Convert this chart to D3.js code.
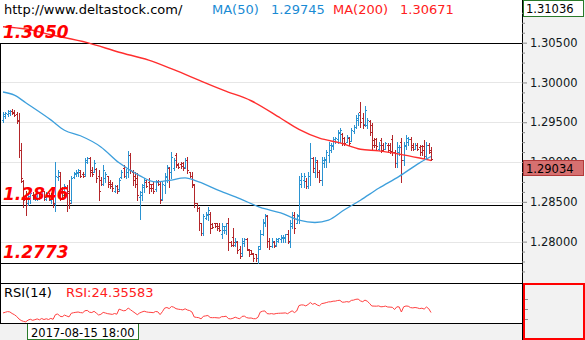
<!DOCTYPE html>
<html>
<head>
<meta charset="utf-8">
<script src="https://cdn.jsdelivr.net/npm/d3@7"></script>
<style>
  html, body { margin: 0; padding: 0; background: #fff; overflow: hidden; }
  svg { display: block; font-family: "DejaVu Sans", Verdana, sans-serif; }
</style>
</head>
<body>
<svg id="chart" width="585" height="340"></svg>
<script>
// ---------- data: GBP/USD bars (open, high, low, close) ----------
const openP = [
  1.2953,1.2958,1.2960,1.2962,1.2964,1.2963,1.2960,1.2953,1.2915,1.2876,
  1.2858,1.2848,1.2854,1.2859,1.2853,1.2856,1.2861,1.2859,1.2863,1.2854,
  1.2859,1.2852,1.2857,1.2847,1.2881,1.2882,1.2864,1.2858,1.2868,1.2864,
  1.2852,1.2881,1.2885,1.2886,1.2888,1.2885,1.2885,1.2900,1.2905,1.2890,
  1.2887,1.2891,1.2883,1.2877,1.2872,1.2880,1.2882,1.2875,1.2872,1.2864,
  1.2870,1.2866,1.2881,1.2892,1.2882,1.2887,1.2909,1.2888,1.2882,1.2880,
  1.2856,1.2858,1.2868,1.2875,1.2875,1.2872,1.2873,1.2866,1.2876,1.2872,
  1.2853,1.2871,1.2881,1.2892,1.2887,1.2892,1.2909,1.2897,1.2897,1.2899,
  1.2894,1.2902,1.2887,1.2883,1.2871,1.2848,1.2842,1.2823,1.2811,1.2830,
  1.2833,1.2835,1.2822,1.2823,1.2823,1.2819,1.2809,1.2814,1.2815,1.2824,
  1.2800,1.2806,1.2796,1.2799,1.2791,1.2786,1.2798,1.2803,1.2790,1.2789,
  1.2785,1.2784,1.2779,1.2794,1.2810,1.2824,1.2832,1.2801,1.2794,1.2800,
  1.2796,1.2801,1.2803,1.2804,1.2805,1.2810,1.2800,1.2820,1.2834,1.2824,
  1.2832,1.2873,1.2877,1.2876,1.2870,1.2882,1.2905,1.2887,1.2900,1.2887,
  1.2877,1.2899,1.2902,1.2909,1.2915,1.2920,1.2926,1.2929,1.2936,1.2935,
  1.2930,1.2925,1.2930,1.2926,1.2939,1.2944,1.2953,1.2963,1.2955,1.2948,
  1.2946,1.2951,1.2946,1.2928,1.2929,1.2917,1.2928,1.2921,1.2917,1.2922,
  1.2921,1.2929,1.2912,1.2899,1.2912,1.2925,1.2902,1.2920,1.2925,1.2929,
  1.2921,1.2917,1.2921,1.2919,1.2920,1.2920,1.2907,1.2921,1.2915
];
const highP = [
  1.2963,1.2963,1.2965,1.2965,1.2967,1.2965,1.2963,1.2962,1.2924,1.2877,
  1.2864,1.2861,1.2864,1.2862,1.2858,1.2864,1.2862,1.2867,1.2864,1.2862,
  1.2861,1.2861,1.2858,1.2900,1.2890,1.2887,1.2868,1.2873,1.2871,1.2877,
  1.2883,1.2887,1.2890,1.2891,1.2890,1.2887,1.2905,1.2906,1.2906,1.2894,
  1.2902,1.2892,1.2890,1.2881,1.2896,1.2887,1.2883,1.2877,1.2875,1.2871,
  1.2871,1.2880,1.2890,1.2896,1.2891,1.2914,1.2911,1.2890,1.2887,1.2886,
  1.2864,1.2873,1.2880,1.2877,1.2880,1.2873,1.2875,1.2877,1.2877,1.2875,
  1.2875,1.2886,1.2896,1.2894,1.2912,1.2905,1.2911,1.2899,1.2900,1.2900,
  1.2905,1.2906,1.2887,1.2887,1.2873,1.2849,1.2843,1.2824,1.2835,1.2837,
  1.2843,1.2837,1.2824,1.2824,1.2824,1.2823,1.2823,1.2820,1.2824,1.2830,
  1.2801,1.2817,1.2804,1.2801,1.2795,1.2804,1.2804,1.2804,1.2791,1.2790,
  1.2786,1.2785,1.2795,1.2814,1.2829,1.2835,1.2833,1.2804,1.2804,1.2801,
  1.2805,1.2805,1.2808,1.2808,1.2810,1.2814,1.2827,1.2837,1.2837,1.2835,
  1.2883,1.2886,1.2886,1.2880,1.2887,1.2924,1.2906,1.2906,1.2902,1.2890,
  1.2906,1.2906,1.2915,1.2925,1.2924,1.2931,1.2931,1.2940,1.2943,1.2936,
  1.2931,1.2934,1.2931,1.2943,1.2946,1.2959,1.2962,1.2975,1.2962,1.2970,
  1.2955,1.2953,1.2949,1.2930,1.2930,1.2925,1.2930,1.2924,1.2925,1.2924,
  1.2924,1.2934,1.2915,1.2925,1.2921,1.2930,1.2925,1.2934,1.2931,1.2931,
  1.2924,1.2924,1.2924,1.2921,1.2921,1.2928,1.2925,1.2924,1.2919
];
const lowP = [
  1.2950,1.2955,1.2958,1.2959,1.2960,1.2958,1.2949,1.2906,1.2875,1.2843,
  1.2833,1.2846,1.2848,1.2853,1.2852,1.2852,1.2854,1.2858,1.2852,1.2852,
  1.2852,1.2849,1.2843,1.2839,1.2877,1.2852,1.2854,1.2856,1.2839,1.2842,
  1.2848,1.2880,1.2883,1.2883,1.2881,1.2881,1.2883,1.2899,1.2883,1.2883,
  1.2887,1.2875,1.2852,1.2871,1.2871,1.2875,1.2868,1.2867,1.2864,1.2862,
  1.2861,1.2864,1.2880,1.2881,1.2880,1.2881,1.2886,1.2871,1.2868,1.2852,
  1.2829,1.2852,1.2862,1.2868,1.2861,1.2864,1.2861,1.2864,1.2871,1.2848,
  1.2852,1.2861,1.2875,1.2868,1.2880,1.2890,1.2894,1.2892,1.2892,1.2890,
  1.2892,1.2886,1.2881,1.2868,1.2843,1.2839,1.2814,1.2808,1.2808,1.2829,
  1.2827,1.2811,1.2817,1.2818,1.2814,1.2813,1.2805,1.2811,1.2810,1.2789,
  1.2794,1.2795,1.2795,1.2786,1.2779,1.2782,1.2795,1.2789,1.2782,1.2784,
  1.2776,1.2776,1.2773,1.2791,1.2808,1.2820,1.2793,1.2791,1.2793,1.2793,
  1.2795,1.2799,1.2799,1.2799,1.2799,1.2798,1.2793,1.2817,1.2811,1.2823,
  1.2823,1.2868,1.2868,1.2867,1.2867,1.2871,1.2887,1.2881,1.2881,1.2875,
  1.2871,1.2894,1.2894,1.2900,1.2912,1.2917,1.2924,1.2924,1.2925,1.2921,
  1.2921,1.2925,1.2921,1.2926,1.2936,1.2943,1.2946,1.2944,1.2943,1.2945,
  1.2943,1.2934,1.2917,1.2919,1.2917,1.2915,1.2912,1.2915,1.2917,1.2912,
  1.2911,1.2909,1.2894,1.2894,1.2909,1.2875,1.2896,1.2917,1.2921,1.2915,
  1.2915,1.2917,1.2915,1.2909,1.2909,1.2905,1.2905,1.2911,1.2902
];
const closeP = [
  1.2960,1.2962,1.2964,1.2964,1.2962,1.2959,1.2951,1.2915,1.2880,1.2852,
  1.2846,1.2857,1.2861,1.2854,1.2857,1.2862,1.2856,1.2864,1.2856,1.2859,
  1.2853,1.2858,1.2848,1.2883,1.2887,1.2862,1.2858,1.2870,1.2861,1.2848,
  1.2880,1.2886,1.2888,1.2890,1.2883,1.2882,1.2902,1.2905,1.2887,1.2885,
  1.2899,1.2880,1.2864,1.2872,1.2890,1.2885,1.2873,1.2870,1.2867,1.2870,
  1.2863,1.2877,1.2887,1.2883,1.2888,1.2909,1.2890,1.2877,1.2873,1.2858,
  1.2862,1.2871,1.2877,1.2870,1.2867,1.2867,1.2864,1.2875,1.2872,1.2852,
  1.2872,1.2882,1.2894,1.2887,1.2906,1.2902,1.2896,1.2894,1.2895,1.2892,
  1.2902,1.2890,1.2882,1.2872,1.2849,1.2842,1.2824,1.2811,1.2832,1.2835,
  1.2840,1.2817,1.2818,1.2819,1.2817,1.2815,1.2820,1.2819,1.2823,1.2799,
  1.2796,1.2799,1.2801,1.2789,1.2782,1.2801,1.2803,1.2791,1.2785,1.2786,
  1.2779,1.2779,1.2791,1.2810,1.2825,1.2833,1.2801,1.2794,1.2801,1.2794,
  1.2803,1.2804,1.2806,1.2806,1.2809,1.2801,1.2823,1.2834,1.2817,1.2833,
  1.2877,1.2883,1.2882,1.2870,1.2883,1.2905,1.2892,1.2902,1.2887,1.2877,
  1.2902,1.2904,1.2912,1.2921,1.2922,1.2929,1.2930,1.2938,1.2940,1.2924,
  1.2924,1.2931,1.2924,1.2940,1.2944,1.2955,1.2959,1.2950,1.2946,1.2965,
  1.2953,1.2938,1.2921,1.2921,1.2920,1.2922,1.2915,1.2917,1.2924,1.2915,
  1.2914,1.2912,1.2899,1.2919,1.2919,1.2902,1.2921,1.2930,1.2929,1.2919,
  1.2917,1.2921,1.2917,1.2912,1.2915,1.2907,1.2921,1.2912,1.29034
];

// RSI(14), one value per bar
const rsi14 = [
  42.1,43.5,44.8,44.2,41.0,38.6,35.2,30.1,27.0,25.2,24.35583,27.8,29.5,27.4,28.6,30.2,28.4,31.0,28.9,30.5,
  29.0,31.2,29.4,38.5,40.2,35.6,34.5,37.8,36.0,34.2,41.5,42.6,43.4,44.0,42.8,42.4,46.5,47.2,43.6,42.9,
  45.4,41.8,38.0,39.4,43.2,42.0,40.6,40.0,39.2,41.0,39.6,49.8,48.0,46.4,47.2,52.0,48.5,45.2,42.0,38.6,
  42.0,44.0,45.6,44.2,43.4,43.2,42.6,45.0,44.4,38.8,44.6,51.8,53.0,50.8,55.0,53.6,50.6,49.6,49.0,48.2,
  50.4,48.0,46.8,44.0,34.0,33.2,32.6,30.2,35.4,36.2,37.0,33.0,32.6,32.8,32.4,32.0,34.6,34.8,35.6,30.8,
  30.2,31.4,33.6,31.8,30.4,35.2,35.8,32.8,31.8,32.0,30.6,30.6,33.4,43.8,45.6,46.2,40.8,40.2,40.8,39.8,
  41.0,41.4,41.6,41.8,42.2,40.6,43.6,46.4,42.8,46.0,56.8,58.2,58.0,56.2,59.0,63.0,59.4,61.2,58.0,56.4,
  60.8,61.6,62.8,64.2,64.4,65.6,65.8,67.0,67.4,63.6,63.8,64.8,63.8,67.2,67.8,69.4,69.8,66.2,64.6,67.8,
  65.6,61.2,56.0,55.8,55.6,56.2,54.4,54.8,55.8,54.0,53.8,53.4,49.0,54.4,54.2,44.0,54.4,56.0,55.6,52.8,
  52.2,53.0,52.2,50.8,51.6,49.8,54.0,50.6,43.0
];

// Moving averages, listed at the bar indices where they were taken
const ma50Index  = [0,5,10,21,27,34,43,51,60,67,73,80,86,95,104,113,122,130,137,143,150,157,165,174,183,188];
const ma50       = [1.2988,1.2984,1.29745,1.2953,1.2940,1.2933,1.2919,1.2899,1.2883,1.2875,1.2877,1.2880,1.2875,
                    1.2864,1.2854,1.2843,1.2836,1.2827,1.2824,1.2827,1.2840,1.2852,1.2867,1.2882,1.2899,1.2907];
const ma200Index = [0,10,21,37,51,64,75,86,97,109,122,130,139,148,157,165,174,183,188];
const ma200      = [1.3070,1.30671,1.3060,1.3050,1.3038,1.3028,1.3016,1.3003,1.2990,1.2977,1.2955,1.2941,
                    1.2930,1.2924,1.2916,1.2914,1.2910,1.2905,1.2902];

// Price axis and support / resistance levels
const priceMin = 1.2748, priceMax = 1.31036;
const priceTicks = [1.305, 1.300, 1.295, 1.290, 1.285, 1.280];
const levels = [1.3050, 1.2846, 1.2773];
const rsiTicks = [30, 50, 70];

const cursorIndex = 10;
const cursorTime = "2017-08-15 18:00";
const siteUrl = "http://www.deltastock.com/";

// ---------- layout ----------
const W = 585, H = 340;
const plotR = 522;          // right edge of the plotting panes
const priceB = 283;         // bottom of the price pane
const rsiB = 323;           // bottom of the RSI pane

const UP = "#2b93d1", DOWN = "#b3262a";
const MA50_C = "#3d9fdc", MA200_C = "#ff2e2e";

const svg = d3.select("#chart");
const N = closeP.length;

const x = d3.scalePoint().domain(d3.range(N)).range([3, 431]);
const y = d3.scaleLinear().domain([priceMin, priceMax]).range([priceB, 0]);
const yR = d3.scaleLinear().domain([22, 102]).range([rsiB, priceB]);
const crisp = v => Math.round(v) + 0.5;

svg.append("rect").attr("width", W).attr("height", H).attr("fill", "#fff");

const defs = svg.append("defs");
defs.append("clipPath").attr("id", "pricePane")
  .append("rect").attr("x", 0).attr("y", 0).attr("width", plotR).attr("height", priceB);
defs.append("clipPath").attr("id", "rsiPane")
  .append("rect").attr("x", 0).attr("y", priceB + 1).attr("width", plotR).attr("height", rsiB - priceB - 1);

// ---------- price pane ----------
const pane = svg.append("g").attr("clip-path", "url(#pricePane)");

pane.append("g").selectAll("line").data(priceTicks).join("line")
  .attr("x1", 0).attr("x2", plotR)
  .attr("y1", d => crisp(y(d))).attr("y2", d => crisp(y(d)))
  .attr("stroke", "#e6e6e6").attr("stroke-width", 1).attr("shape-rendering", "crispEdges");

pane.append("g").selectAll("line").data(levels).join("line")
  .attr("x1", 0).attr("x2", plotR)
  .attr("y1", d => crisp(y(d))).attr("y2", d => crisp(y(d)))
  .attr("stroke", "#000").attr("stroke-width", 1).attr("shape-rendering", "crispEdges");

// OHLC bars
const bars = pane.append("g").attr("shape-rendering", "crispEdges");
d3.range(N).forEach(i => {
  const col = closeP[i] >= openP[i] ? UP : DOWN;
  const bx = Math.round(x(i));
  const g = bars.append("g").attr("stroke", col).attr("stroke-width", 1);
  g.append("line").attr("x1", bx + 0.5).attr("x2", bx + 0.5)
    .attr("y1", Math.round(y(highP[i]))).attr("y2", Math.round(y(lowP[i])) + 1);
  g.append("line").attr("x1", bx - 1).attr("x2", bx)
    .attr("y1", crisp(y(openP[i]))).attr("y2", crisp(y(openP[i])));
  g.append("line").attr("x1", bx + 1).attr("x2", bx + 2)
    .attr("y1", crisp(y(closeP[i]))).attr("y2", crisp(y(closeP[i])));
});

// moving averages
const maLine = (idx, vals) => d3.line()
  .x((d, k) => x(idx[k])).y(d => y(d))
  .curve(d3.curveMonotoneX)(vals);
pane.append("path").attr("d", maLine(ma200Index, ma200))
  .attr("fill", "none").attr("stroke", MA200_C).attr("stroke-width", 1.4);
pane.append("path").attr("d", maLine(ma50Index, ma50))
  .attr("fill", "none").attr("stroke", MA50_C).attr("stroke-width", 1.3);

// level captions
svg.append("g").selectAll("text").data(levels).join("text")
  .attr("x", 3).attr("y", d => y(d) - 5)
  .attr("fill", "#ff0000").attr("font-size", 17).attr("font-weight", "bold").attr("font-style", "italic")
  .text(d => d3.format(".4f")(d));

// header
const fmt5 = d3.format(".5f");
const head = svg.append("g").attr("font-size", 13);
head.append("text").attr("x", 4).attr("y", 14).attr("fill", "#000").text(siteUrl);
head.append("text").attr("x", 212).attr("y", 14).attr("fill", "#1a8bd4").text("MA(50)");
head.append("text").attr("x", 271).attr("y", 14).attr("fill", "#1a8bd4")
  .text(fmt5(ma50[ma50Index.indexOf(cursorIndex)]));
head.append("text").attr("x", 333).attr("y", 14).attr("fill", "#ff2020").text("MA(200)");
head.append("text").attr("x", 400).attr("y", 14).attr("fill", "#ff2020")
  .text(fmt5(ma200[ma200Index.indexOf(cursorIndex)]));

// ---------- RSI pane ----------
svg.append("g").attr("clip-path", "url(#rsiPane)")
  .append("path")
  .attr("d", d3.line().x((d, i) => x(i)).y(d => yR(d))(rsi14))
  .attr("fill", "none").attr("stroke", "#ff4040").attr("stroke-width", 1);

svg.append("text").attr("x", 4).attr("y", 297).attr("font-size", 13).attr("fill", "#000").text("RSI(14)");
svg.append("text").attr("x", 66).attr("y", 297).attr("font-size", 13).attr("fill", "#ff2020")
  .text("RSI:" + fmt5(rsi14[cursorIndex]));

// ---------- time strip ----------
svg.append("rect").attr("x", 0).attr("y", rsiB).attr("width", plotR).attr("height", H - rsiB).attr("fill", "#f2f2f2");
const tb = svg.append("g").attr("shape-rendering", "crispEdges");
tb.append("rect").attr("x", 27.5).attr("y", rsiB).attr("width", 111).attr("height", H - rsiB - 0.5)
  .attr("fill", "#fff").attr("stroke", "#2a7a2a").attr("stroke-width", 1);
svg.append("text").attr("x", 31).attr("y", 337).attr("font-size", 11.5).attr("fill", "#000").text(cursorTime);

// pane frames
const frame = svg.append("g").attr("stroke", "#000").attr("stroke-width", 1).attr("shape-rendering", "crispEdges");
frame.append("line").attr("x1", 0).attr("x2", plotR).attr("y1", priceB + 0.5).attr("y2", priceB + 0.5);
frame.append("line").attr("x1", 0).attr("x2", plotR).attr("y1", rsiB + 0.5).attr("y2", rsiB + 0.5);
frame.append("line").attr("x1", 0.5).attr("x2", 0.5).attr("y1", crisp(y(levels[0]))).attr("y2", rsiB);

// ---------- right price axis ----------
svg.append("rect").attr("x", plotR).attr("y", 0).attr("width", W - plotR).attr("height", H).attr("fill", "#f2f2f2");
svg.append("line").attr("x1", plotR + 0.5).attr("x2", plotR + 0.5).attr("y1", 0).attr("y2", H)
  .attr("stroke", "#000").attr("shape-rendering", "crispEdges");

const minorTicks = d3.range(1.27625, 1.3100, 0.00125).filter(v => !priceTicks.some(t => Math.abs(t - v) < 1e-6));
const axisG = svg.append("g").attr("transform", `translate(${plotR},0)`);
axisG.call(d3.axisRight(y).tickValues(minorTicks).tickSize(3).tickFormat(""))
  .call(g => g.select(".domain").remove())
  .call(g => g.selectAll("line").attr("stroke", "#8a8a8a"));
const majorG = svg.append("g").attr("transform", `translate(${plotR},0)`);
majorG.call(d3.axisRight(y).tickValues(priceTicks).tickSize(5).tickPadding(3).tickFormat(fmt5))
  .call(g => g.select(".domain").remove())
  .call(g => g.selectAll("line").attr("stroke", "#8a8a8a"))
  .call(g => g.selectAll("text").attr("font-size", 11.5).attr("font-family", "DejaVu Sans, sans-serif").attr("fill", "#101820"));

// axis maximum
svg.append("rect").attr("x", plotR + 1.5).attr("y", 0.5).attr("width", 60).attr("height", 16)
  .attr("fill", "#fff").attr("stroke", "#2a7a2a").attr("shape-rendering", "crispEdges");
svg.append("text").attr("x", plotR + 4).attr("y", 13).attr("font-size", 11.5).attr("fill", "#000").text(fmt5(priceMax));

// last price marker
const last = closeP[N - 1];
const lastTop = Math.round(y(last)) + 1;
svg.append("rect").attr("x", plotR + 1.5).attr("y", lastTop + 0.5).attr("width", 60).attr("height", 15)
  .attr("fill", "#d67070").attr("stroke", "#b23a3a").attr("shape-rendering", "crispEdges");
svg.append("text").attr("x", plotR + 4).attr("y", lastTop + 12.5).attr("font-size", 11.5).attr("fill", "#000").text(fmt5(last));

// RSI axis box
svg.append("g").selectAll("line").data(rsiTicks).join("line")
  .attr("x1", plotR + 2).attr("x2", plotR + 6)
  .attr("y1", d => crisp(yR(d))).attr("y2", d => crisp(yR(d)))
  .attr("stroke", "#8a8a8a").attr("shape-rendering", "crispEdges");
svg.append("rect").attr("x", plotR + 2).attr("y", priceB + 1).attr("width", 60).attr("height", H - priceB - 2)
  .attr("fill", "none").attr("stroke", "#ff0000").attr("stroke-width", 2);
</script>
</body>
</html>
